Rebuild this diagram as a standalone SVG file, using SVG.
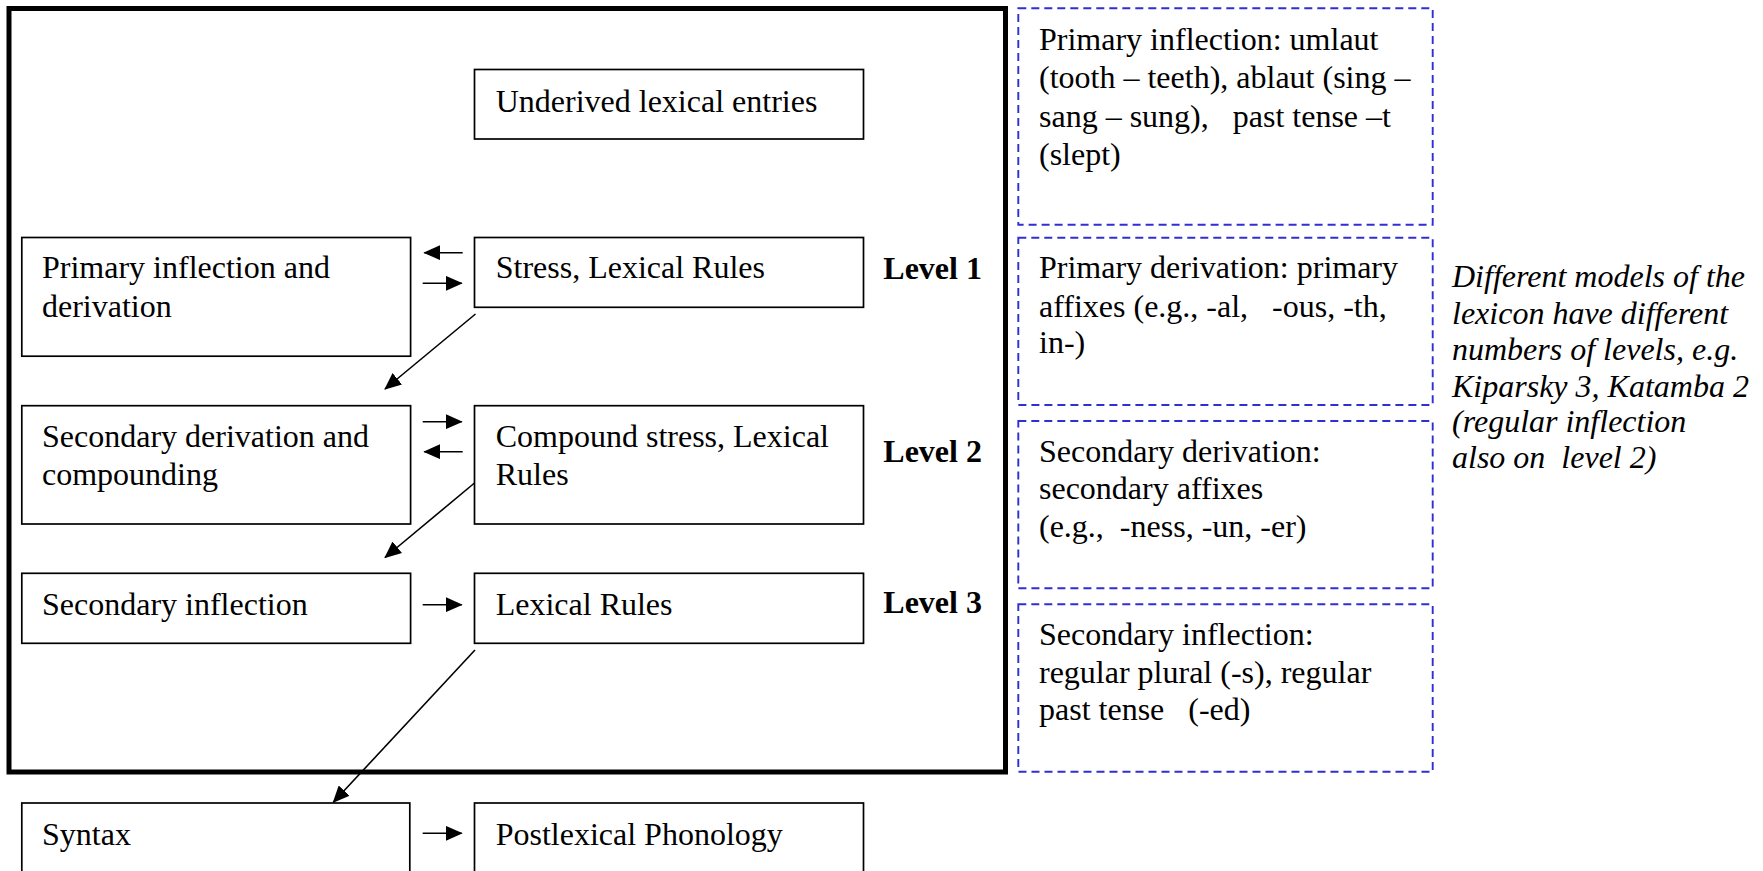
<svg xmlns="http://www.w3.org/2000/svg" width="1763" height="871" viewBox="0 0 1763 871">
<style>
text { font-family: "Liberation Serif", "Times New Roman", serif; font-size: 32px; fill: #000; white-space: pre; }
.bold { font-weight: bold; }
.ital { font-style: italic; }
.box { fill: #fff; stroke: #000; stroke-width: 1.7; }
.dash { fill: none; stroke: #2f2fd2; stroke-width: 1.9; stroke-dasharray: 8 5; }
.frame { fill: none; stroke: #000; stroke-width: 5; }
.conn { stroke: #000; stroke-width: 1.6; fill: none; marker-end: url(#arr); }
</style>
<defs>
<marker id="arr" markerUnits="userSpaceOnUse" markerWidth="17" markerHeight="15" viewBox="0 0 17 15" refX="16" refY="7.5" orient="auto">
<path d="M0,0 L17,7.5 L0,15 z" fill="#000"/>
</marker>
</defs>
<rect width="1763" height="871" fill="#fff"/>
<rect id="frame" class="frame" x="9" y="8.5" width="996.5" height="763.5"/>

<g id="underived"><rect class="box" x="474.5" y="69.5" width="389" height="69.5"/><text x="495.7" y="111.7">Underived lexical entries</text></g>
<g id="primary-infl-deriv"><rect class="box" x="21.8" y="237.5" width="388.8" height="118.7"/><text x="42" y="278.3">Primary inflection and</text><text x="42" y="316.7">derivation</text></g>
<g id="stress"><rect class="box" x="474.5" y="237.5" width="389" height="69.8"/><text x="495.7" y="278.3">Stress, Lexical Rules</text></g>
<g id="level1"><text class="bold" x="883.3" y="279.3">Level 1</text></g>
<g id="sec-deriv"><rect class="box" x="21.8" y="405.7" width="388.8" height="118.3"/><text x="42" y="446.7">Secondary derivation and</text><text x="42" y="485">compounding</text></g>
<g id="compound"><rect class="box" x="474.5" y="405.7" width="389" height="118.3"/><text x="495.7" y="446.7">Compound stress, Lexical</text><text x="495.7" y="485">Rules</text></g>
<g id="level2"><text class="bold" x="883.3" y="461.7">Level 2</text></g>
<g id="sec-infl"><rect class="box" x="21.8" y="573.3" width="388.8" height="70"/><text x="42" y="615">Secondary inflection</text></g>
<g id="lexical-rules"><rect class="box" x="474.5" y="573.3" width="389" height="70"/><text x="495.7" y="615">Lexical Rules</text></g>
<g id="level3"><text class="bold" x="883.3" y="613.3">Level 3</text></g>
<g id="syntax"><rect class="box" x="21.8" y="803" width="388" height="100"/><text x="42" y="845">Syntax</text></g>
<g id="postlexical"><rect class="box" x="474.5" y="803" width="389" height="100"/><text x="495.7" y="845">Postlexical Phonology</text></g>

<g id="note-primary-infl"><rect class="dash" x="1018.3" y="8.3" width="414.4" height="216.5"/>
<text x="1039" y="50">Primary inflection: umlaut</text>
<text x="1039" y="88.3">(tooth – teeth), ablaut (sing –</text>
<text x="1039" y="126.7">sang – sung),   past tense –t</text>
<text x="1039" y="165">(slept)</text></g>
<g id="note-primary-deriv"><rect class="dash" x="1018.3" y="237.7" width="414.4" height="167.3"/>
<text x="1039" y="278.3">Primary derivation: primary</text>
<text x="1039" y="316.7">affixes (e.g., -al,   -ous, -th,</text>
<text x="1039" y="353.3">in-)</text></g>
<g id="note-sec-deriv"><rect class="dash" x="1018.3" y="421" width="414.4" height="167.3"/>
<text x="1039" y="461.7">Secondary derivation:</text>
<text x="1039" y="499.3">secondary affixes</text>
<text x="1039" y="536.7">(e.g.,  -ness, -un, -er)</text></g>
<g id="note-sec-infl"><rect class="dash" x="1018.3" y="604.3" width="414.4" height="167.4"/>
<text x="1039" y="645">Secondary inflection:</text>
<text x="1039" y="682.7">regular plural (-s), regular</text>
<text x="1039" y="720">past tense   (-ed)</text></g>

<g id="side-note">
<text class="ital" x="1452" y="287.3">Different models of the</text>
<text class="ital" x="1452" y="324">lexicon have different</text>
<text class="ital" x="1452" y="360.3">numbers of levels, e.g.</text>
<text class="ital" x="1452" y="396.7">Kiparsky 3, Katamba 2</text>
<text class="ital" x="1452" y="432">(regular inflection</text>
<text class="ital" x="1452" y="468.3">also on  level 2)</text>
</g>

<g id="connectors">
<line class="conn" x1="462.7" y1="252.7" x2="424.3" y2="252.7"/>
<line class="conn" x1="422.7" y1="283.3" x2="461.7" y2="283.3"/>
<line class="conn" x1="475.5" y1="314" x2="385" y2="389"/>
<line class="conn" x1="422.7" y1="421.7" x2="461.7" y2="421.7"/>
<line class="conn" x1="462.7" y1="451.7" x2="424.3" y2="451.7"/>
<line class="conn" x1="474.5" y1="483" x2="385" y2="557.5"/>
<line class="conn" x1="422.7" y1="604.7" x2="461.7" y2="604.7"/>
<line class="conn" x1="475" y1="650" x2="333.3" y2="802.3"/>
<line class="conn" x1="422.7" y1="833.3" x2="461.7" y2="833.3"/>
</g>
</svg>
